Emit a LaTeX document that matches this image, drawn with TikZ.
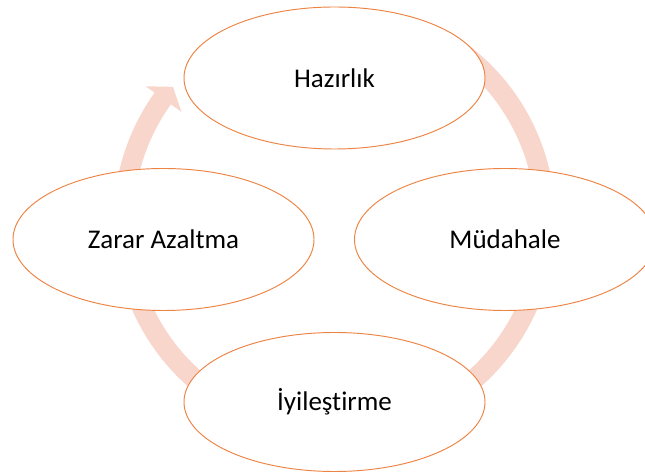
\documentclass[tikz,border=0pt]{standalone}
\usepackage{fontspec}
\setmainfont{Carlito}[Ligatures=NoCommon]
\usetikzlibrary{shapes.geometric}
\definecolor{ringc}{RGB}{248,214,204}
\definecolor{edgec}{RGB}{237,132,68}
\begin{document}
\begin{tikzpicture}[x=1pt,y=1pt,
  phase/.style={ellipse, draw=edgec, line width=0.95pt, fill=white,
    minimum width=301pt, minimum height=142pt, inner sep=0pt,
    font=\fontsize{27}{32}\selectfont}]
\useasboundingbox (0,0) rectangle (645,473);
\fill[white] (0,0) rectangle (645,473);
\coordinate (c) at (334.5,252);
\fill[ringc] ([shift={(55:221)}]c) arc[start angle=55, end angle=-215.5, radius=221]
  -- ([shift={(-215.5:232)}]c) -- ([shift={(-219.7:210)}]c)
  -- ([shift={(-215.5:188)}]c) -- ([shift={(-215.5:201)}]c)
  arc[start angle=-215.5, end angle=55, radius=201] -- cycle;
\node[phase] (h) at (334.5,395) {Hazırlık};
\node[phase] (m) at (505,233.5) {Müdahale};
\node[phase, minimum height=139pt] (i) at (334.5,71) {İyileştirme};
\node[phase] (z) at (163.5,233.5) {Zarar Azaltma};
\end{tikzpicture}
\end{document}
